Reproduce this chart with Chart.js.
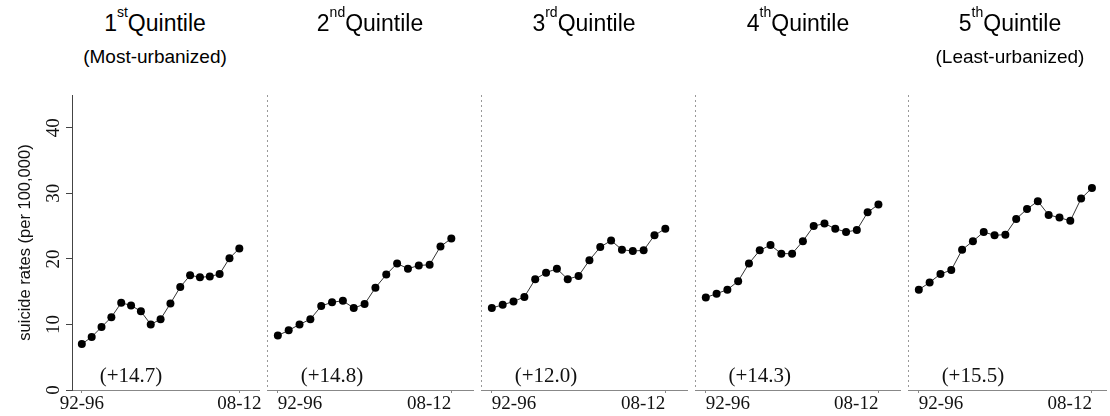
<!DOCTYPE html>
<html>
<head>
<meta charset="utf-8">
<script src="https://cdn.jsdelivr.net/npm/chart.js@4/dist/chart.umd.min.js"></script>
<style>
  body { margin: 0; background: #fff; }
  #wrap { position: relative; width: 1110px; height: 416px; overflow: hidden; }
  .panel { position: absolute; top: 0; height: 416px; }
  .ttl { position: absolute; width: 220px; text-align: center; font-family: "Liberation Sans", Arial, sans-serif; color: #000; line-height: 1; white-space: nowrap; }
  .ttl.main { top: 12px; font-size: 23px; }
  .ttl.sub { top: 47px; font-size: 19px; }
  .ttl sup { font-size: 14px; line-height: 0; vertical-align: 14px; }
</style>
</head>
<body>
<div id="wrap"></div>
<script>
// five-year windows, 1992-1996 ... 2008-2012
var periods = ["92-96", "93-97", "94-98", "95-99", "96-00", "97-01", "98-02", "99-03", "00-04",
  "01-05", "02-06", "03-07", "04-08", "05-09", "06-10", "07-11", "08-12"];

// suicide rates per 100,000
var q1 = [7.0, 8.1, 9.6, 11.1, 13.3, 12.9, 12.0, 10.0, 10.8, 13.2, 15.7, 17.5, 17.2, 17.3, 17.7, 20.1, 21.6];
var q2 = [8.3, 9.1, 10.0, 10.8, 12.8, 13.4, 13.6, 12.5, 13.1, 15.6, 17.6, 19.3, 18.5, 19.0, 19.1, 21.9, 23.1];
var q3 = [12.5, 13.0, 13.5, 14.2, 16.9, 17.9, 18.5, 16.9, 17.4, 19.8, 21.8, 22.8, 21.4, 21.2, 21.3, 23.6, 24.6];
var q4 = [14.1, 14.7, 15.3, 16.6, 19.3, 21.3, 22.1, 20.8, 20.8, 22.7, 25.0, 25.4, 24.6, 24.1, 24.4, 27.1, 28.3];
var q5 = [15.3, 16.4, 17.7, 18.3, 21.4, 22.7, 24.1, 23.6, 23.7, 26.1, 27.6, 28.8, 26.7, 26.3, 25.8, 29.2, 30.8];

var quintileOrd = ["1", "2", "3", "4", "5"];
var quintileSup = ["st", "nd", "rd", "th", "th"];
var subtitles = ["(Most-urbanized)", "", "", "", "(Least-urbanized)"];
var changes = ["(+14.7)", "(+14.8)", "(+12.0)", "(+14.3)", "(+15.5)"];

var allSeries = [q1, q2, q3, q4, q5];

// panel placement (pixels) and x range
var panelLeft = [0, 263, 477, 691, 904];
var panelWidth = [263, 214, 214, 213, 206];
var panelXMax = [18, 18, 18, 18, 17.3];
var titleCenter = [155, 370, 584, 798, 1010];

var serif = '"Liberation Serif", "Times New Roman", serif';
var sans = '"Liberation Sans", Arial, sans-serif';

// text showing the change over the period, placed in data units
const changeLabel = {
  id: "changeLabel",
  afterDatasetsDraw(chart, args, opts) {
    const ctx = chart.ctx;
    const x = chart.scales.x;
    const y = chart.scales.y;
    ctx.save();
    ctx.font = "21px " + serif;
    ctx.fillStyle = "#111";
    ctx.textAlign = "center";
    ctx.textBaseline = "middle";
    ctx.fillText(opts.text, x.getPixelForValue(5), y.getPixelForValue(2));
    ctx.restore();
  },
};

// dotted separator at the left edge of panels 2-5
const divider = {
  id: "divider",
  beforeDatasetsDraw(chart, args, opts) {
    if (!opts.show) return;
    const ctx = chart.ctx;
    const a = chart.chartArea;
    ctx.save();
    ctx.strokeStyle = "#999";
    ctx.lineWidth = 1;
    ctx.setLineDash([2, 3]);
    ctx.beginPath();
    ctx.moveTo(a.left + 0.5, a.top);
    ctx.lineTo(a.left + 0.5, a.bottom);
    ctx.stroke();
    ctx.restore();
  },
};

var wrap = document.getElementById("wrap");

for (let p = 0; p < 5; p++) {
  // titles
  var t = document.createElement("div");
  t.className = "ttl main";
  t.style.left = titleCenter[p] - 110 + "px";
  t.innerHTML = quintileOrd[p] + "<sup>" + quintileSup[p] + "</sup>Quintile";
  wrap.appendChild(t);
  if (subtitles[p]) {
    var s = document.createElement("div");
    s.className = "ttl sub";
    s.style.left = titleCenter[p] - 110 + "px";
    s.textContent = subtitles[p];
    wrap.appendChild(s);
  }

  var box = document.createElement("div");
  box.className = "panel";
  box.style.left = panelLeft[p] + "px";
  box.style.width = panelWidth[p] + "px";
  var cv = document.createElement("canvas");
  box.appendChild(cv);
  wrap.appendChild(box);

  var first = p === 0;
  var points = allSeries[p].map((v, i) => ({ x: i, y: v }));

  new Chart(cv.getContext("2d"), {
    type: "line",
    data: {
      datasets: [
        {
          data: points,
          borderColor: "#333",
          borderWidth: 1,
          pointRadius: 4,
          pointBackgroundColor: "#000",
          pointBorderWidth: 0,
          tension: 0,
        },
      ],
    },
    options: {
      responsive: true,
      maintainAspectRatio: false,
      animation: false,
      layout: { padding: { top: 95, left: 0, right: 0, bottom: 0 } },
      plugins: {
        legend: { display: false },
        tooltip: { enabled: false },
        changeLabel: { text: changes[p] },
        divider: { show: !first },
      },
      scales: {
        x: {
          type: "linear",
          min: -1,
          max: panelXMax[p],
          afterBuildTicks: (sc) => {
            sc.ticks = [{ value: 0 }, { value: periods.length - 1 }];
          },
          afterFit: (sc) => {
            sc.height = 26;
            sc.paddingLeft = 0;
            sc.paddingRight = 0;
          },
          ticks: {
            autoSkip: false,
            maxRotation: 0,
            padding: 0,
            align: first ? "center" : "inner",
            color: "#111",
            font: { family: serif, size: 19 },
            callback: (v) => periods[v],
          },
          grid: { display: true, drawOnChartArea: false, tickLength: 3, color: "#888" },
          border: { display: true, color: "#888", width: 1 },
        },
        y: {
          min: 0,
          max: 45,
          afterFit: (sc) => {
            sc.width = first ? 72 : 0;
            sc.paddingTop = 0;
            sc.paddingBottom = 0;
          },
          ticks: {
            display: first,
            stepSize: 10,
            includeBounds: false,
            minRotation: 90,
            maxRotation: 90,
            crossAlign: "center",
            padding: 2,
            color: "#111",
            font: { family: serif, size: 19 },
          },
          grid: {
            display: first,
            drawOnChartArea: false,
            tickLength: 6,
            color: "#444",
          },
          border: { display: first, color: "#444", width: 1 },
          title: {
            display: first,
            text: "suicide rates (per 100,000)",
            color: "#111",
            font: { family: sans, size: 16.5 },
            padding: { top: 16, bottom: 0 },
          },
        },
      },
    },
    plugins: [changeLabel, divider],
  });
}
</script>
</body>
</html>
